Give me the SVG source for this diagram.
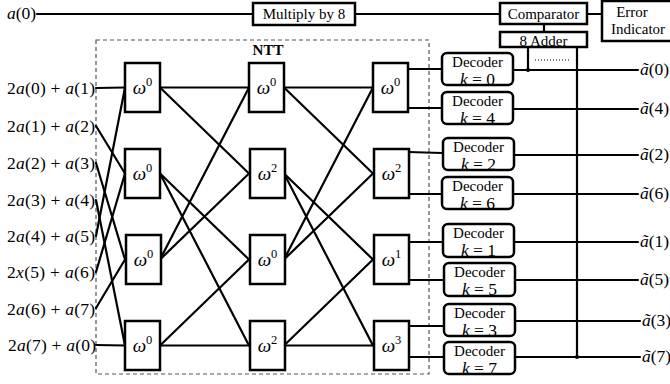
<svg xmlns="http://www.w3.org/2000/svg" width="670" height="384" viewBox="0 0 670 384">
  <style>
    .box { fill: #fff; stroke: #000; stroke-width: 2.5; }
    .tw { fill: #fff; stroke: #000; stroke-width: 2.5; }
    .dec { fill: #fff; stroke: #000; stroke-width: 2.5; }
    .wire { stroke: #000; stroke-width: 2.2; fill: none; stroke-linecap: round; }
    .txt { font-family: "Liberation Serif", "Times New Roman", serif; font-size: 15px; fill: #000; }
    .math { font-family: "Liberation Serif", "Times New Roman", serif; font-size: 17.5px; fill: #000; }
    .i { font-style: italic; }
    .w { font-family: "Liberation Serif", "Times New Roman", serif; font-size: 19px; font-style: italic; fill: #000; }
    .sup { font-size: 12.5px; font-style: normal; }
  </style>

  <!-- NTT frame -->
  <g id="ntt-frame">
    <rect x="96" y="40" width="333" height="334" fill="none" stroke="#555" stroke-width="1.2" stroke-dasharray="4,3"/>
    <text x="268" y="55" text-anchor="middle" class="txt" font-weight="bold">NTT</text>
  </g>

  <!-- connectors -->
  <g id="connectors" class="wire">
    <!-- top path -->
    <line x1="37" y1="14" x2="253" y2="14"/>
    <line x1="355" y1="14" x2="500" y2="14"/>
    <line x1="587" y1="14" x2="602" y2="14"/>
    <line x1="544" y1="24" x2="544" y2="32"/>
    <line x1="528" y1="47" x2="528" y2="70"/>
    <line x1="577" y1="47" x2="577" y2="357"/>
    <line x1="535" y1="60" x2="570" y2="60" stroke-width="1" stroke-dasharray="1,2" stroke-linecap="butt"/>

    <!-- inputs to stage 1 -->
    <line x1="96" y1="88" x2="125" y2="87.5"/>
    <line x1="96" y1="126" x2="125" y2="173.5"/>
    <line x1="96" y1="163" x2="125" y2="259.5"/>
    <line x1="96" y1="200" x2="125" y2="345.5"/>
    <line x1="96" y1="236" x2="125" y2="87.5"/>
    <line x1="96" y1="272" x2="125" y2="173.5"/>
    <line x1="96" y1="308" x2="125" y2="259.5"/>
    <line x1="96" y1="345" x2="125" y2="345.5"/>

    <!-- stage 1 to stage 2 -->
    <line x1="160" y1="87.5" x2="249" y2="87.5"/>
    <line x1="160" y1="87.5" x2="249" y2="173.5"/>
    <line x1="160" y1="259.5" x2="249" y2="87.5"/>
    <line x1="160" y1="259.5" x2="249" y2="173.5"/>
    <line x1="160" y1="173.5" x2="249" y2="259.5"/>
    <line x1="160" y1="173.5" x2="249" y2="345.5"/>
    <line x1="160" y1="345.5" x2="249" y2="259.5"/>
    <line x1="160" y1="345.5" x2="249" y2="345.5"/>

    <!-- stage 2 to stage 3 -->
    <line x1="284" y1="87.5" x2="373" y2="87.5"/>
    <line x1="284" y1="87.5" x2="373" y2="173.5"/>
    <line x1="284" y1="259.5" x2="373" y2="87.5"/>
    <line x1="284" y1="259.5" x2="373" y2="173.5"/>
    <line x1="284" y1="173.5" x2="373" y2="259.5"/>
    <line x1="284" y1="173.5" x2="373" y2="345.5"/>
    <line x1="284" y1="345.5" x2="373" y2="259.5"/>
    <line x1="284" y1="345.5" x2="373" y2="345.5"/>

    <!-- stage 3 to decoders -->
    <line x1="408" y1="69" x2="442" y2="69"/>
    <line x1="408" y1="108" x2="442" y2="108"/>
    <line x1="408" y1="152" x2="442" y2="153"/>
    <line x1="408" y1="194" x2="442" y2="194"/>
    <line x1="408" y1="242" x2="443" y2="242"/>
    <line x1="408" y1="280" x2="443" y2="280"/>
    <line x1="408" y1="326" x2="443" y2="326"/>
    <line x1="408" y1="357" x2="443" y2="357"/>

    <!-- decoder outputs -->
    <line x1="513" y1="70" x2="638" y2="70"/>
    <line x1="513" y1="109" x2="638" y2="109"/>
    <line x1="513" y1="155" x2="638" y2="155"/>
    <line x1="513" y1="194" x2="638" y2="194"/>
    <line x1="514" y1="242" x2="638" y2="242"/>
    <line x1="514" y1="280" x2="638" y2="280"/>
    <line x1="514" y1="321" x2="640" y2="321"/>
    <line x1="514" y1="357" x2="640" y2="357"/>
  </g>
  <g id="junctions" fill="#000">
    <circle cx="528" cy="70" r="2"/>
    <circle cx="577" cy="357" r="2"/>
  </g>

  <!-- top chain -->
  <g id="in-a0">
    <text x="7" y="19" class="math"><tspan class="i">a</tspan>(0)</text>
  </g>
  <g id="multiply">
    <rect x="253" y="3" width="102" height="22" class="box"/>
    <text x="304" y="19" text-anchor="middle" class="txt">Multiply by 8</text>
  </g>
  <g id="comparator">
    <rect x="500" y="3" width="87" height="21" class="box" stroke-width="2"/>
    <text x="543.5" y="19" text-anchor="middle" class="txt">Comparator</text>
  </g>
  <g id="adder">
    <rect x="500" y="32" width="87" height="15" class="box" stroke-width="2"/>
    <text x="543.5" y="46" text-anchor="middle" class="txt">8 Adder</text>
  </g>
  <g id="error-indicator">
    <rect x="602" y="1" width="72" height="40" class="box" stroke-width="2"/>
    <text x="632" y="17" text-anchor="middle" class="txt">Error</text>
    <text x="638" y="34" text-anchor="middle" class="txt">Indicator</text>
  </g>

  <!-- input labels -->
  <g id="inputs" class="math" text-anchor="end">
    <text x="95" y="94" textLength="88">2<tspan class="i">a</tspan>(0) + <tspan class="i">a</tspan>(1)</text>
    <text x="95" y="132" textLength="88">2<tspan class="i">a</tspan>(1) + <tspan class="i">a</tspan>(2)</text>
    <text x="95" y="169" textLength="88">2<tspan class="i">a</tspan>(2) + <tspan class="i">a</tspan>(3)</text>
    <text x="95" y="206" textLength="88">2<tspan class="i">a</tspan>(3) + <tspan class="i">a</tspan>(4)</text>
    <text x="95" y="242" textLength="88">2<tspan class="i">a</tspan>(4) + <tspan class="i">a</tspan>(5)</text>
    <text x="95" y="278" textLength="88">2<tspan class="i">x</tspan>(5) + <tspan class="i">a</tspan>(6)</text>
    <text x="95" y="315" textLength="88">2<tspan class="i">a</tspan>(6) + <tspan class="i">a</tspan>(7)</text>
    <text x="96" y="351" textLength="88">2<tspan class="i">a</tspan>(7) + <tspan class="i">a</tspan>(0)</text>
  </g>

  <!-- stage 1 twiddle nodes -->
  <g id="s1n1"><rect x="125" y="63" width="35" height="49" class="tw"/><text x="142.5" y="94" text-anchor="middle" class="w">ω<tspan class="sup" dy="-8">0</tspan></text></g>
  <g id="s1n2"><rect x="125" y="149" width="35" height="49" class="tw"/><text x="142.5" y="180" text-anchor="middle" class="w">ω<tspan class="sup" dy="-8">0</tspan></text></g>
  <g id="s1n3"><rect x="126" y="235" width="35" height="49" class="tw"/><text x="143.5" y="266" text-anchor="middle" class="w">ω<tspan class="sup" dy="-8">0</tspan></text></g>
  <g id="s1n4"><rect x="125" y="321" width="35" height="49" class="tw"/><text x="142.5" y="352" text-anchor="middle" class="w">ω<tspan class="sup" dy="-8">0</tspan></text></g>

  <!-- stage 2 twiddle nodes -->
  <g id="s2n1"><rect x="249" y="63" width="35" height="49" class="tw"/><text x="266.5" y="94" text-anchor="middle" class="w">ω<tspan class="sup" dy="-8">0</tspan></text></g>
  <g id="s2n2"><rect x="250" y="149" width="35" height="49" class="tw"/><text x="267.5" y="180" text-anchor="middle" class="w">ω<tspan class="sup" dy="-8">2</tspan></text></g>
  <g id="s2n3"><rect x="250" y="235" width="35" height="49" class="tw"/><text x="267.5" y="266" text-anchor="middle" class="w">ω<tspan class="sup" dy="-8">0</tspan></text></g>
  <g id="s2n4"><rect x="250" y="321" width="35" height="49" class="tw"/><text x="267.5" y="352" text-anchor="middle" class="w">ω<tspan class="sup" dy="-8">2</tspan></text></g>

  <!-- stage 3 twiddle nodes -->
  <g id="s3n1"><rect x="373" y="63" width="35" height="49" class="tw"/><text x="390.5" y="94" text-anchor="middle" class="w">ω<tspan class="sup" dy="-8">0</tspan></text></g>
  <g id="s3n2"><rect x="374" y="149" width="35" height="49" class="tw"/><text x="391.5" y="180" text-anchor="middle" class="w">ω<tspan class="sup" dy="-8">2</tspan></text></g>
  <g id="s3n3"><rect x="374" y="235" width="35" height="49" class="tw"/><text x="391.5" y="266" text-anchor="middle" class="w">ω<tspan class="sup" dy="-8">1</tspan></text></g>
  <g id="s3n4"><rect x="374" y="321" width="35" height="49" class="tw"/><text x="391.5" y="352" text-anchor="middle" class="w">ω<tspan class="sup" dy="-8">3</tspan></text></g>

  <!-- decoders -->
  <g id="dec0"><rect x="442" y="53" width="71" height="32" rx="5" class="dec"/><text x="477.5" y="67" text-anchor="middle" class="txt">Decoder</text><text x="477.5" y="85" text-anchor="middle" class="math"><tspan class="i">k</tspan> = 0</text></g>
  <g id="dec4"><rect x="442" y="92" width="71" height="32" rx="5" class="dec"/><text x="477.5" y="106" text-anchor="middle" class="txt">Decoder</text><text x="477.5" y="124" text-anchor="middle" class="math"><tspan class="i">k</tspan> = 4</text></g>
  <g id="dec2"><rect x="443" y="138" width="71" height="32" rx="5" class="dec"/><text x="478.5" y="152" text-anchor="middle" class="txt">Decoder</text><text x="478.5" y="170" text-anchor="middle" class="math"><tspan class="i">k</tspan> = 2</text></g>
  <g id="dec6"><rect x="442" y="177" width="71" height="32" rx="5" class="dec"/><text x="477.5" y="191" text-anchor="middle" class="txt">Decoder</text><text x="477.5" y="209" text-anchor="middle" class="math"><tspan class="i">k</tspan> = 6</text></g>
  <g id="dec1"><rect x="443" y="224" width="71" height="33" rx="5" class="dec"/><text x="478.5" y="238" text-anchor="middle" class="txt">Decoder</text><text x="478.5" y="256" text-anchor="middle" class="math"><tspan class="i">k</tspan> = 1</text></g>
  <g id="dec5"><rect x="444" y="263" width="71" height="33" rx="5" class="dec"/><text x="479.5" y="277" text-anchor="middle" class="txt">Decoder</text><text x="479.5" y="295" text-anchor="middle" class="math"><tspan class="i">k</tspan> = 5</text></g>
  <g id="dec3"><rect x="444" y="304" width="71" height="32" rx="5" class="dec"/><text x="479.5" y="318" text-anchor="middle" class="txt">Decoder</text><text x="479.5" y="336" text-anchor="middle" class="math"><tspan class="i">k</tspan> = 3</text></g>
  <g id="dec7"><rect x="444" y="342" width="71" height="32" rx="5" class="dec"/><text x="479.5" y="356" text-anchor="middle" class="txt">Decoder</text><text x="479.5" y="374" text-anchor="middle" class="math"><tspan class="i">k</tspan> = 7</text></g>

  <!-- outputs -->
  <g id="outputs" class="math">
    <text x="640" y="75"><tspan class="i">ã</tspan>(0)</text>
    <text x="640" y="114"><tspan class="i">ã</tspan>(4)</text>
    <text x="640" y="160"><tspan class="i">ã</tspan>(2)</text>
    <text x="640" y="199"><tspan class="i">ã</tspan>(6)</text>
    <text x="640" y="247"><tspan class="i">ã</tspan>(1)</text>
    <text x="640" y="285"><tspan class="i">ã</tspan>(5)</text>
    <text x="642" y="326"><tspan class="i">ã</tspan>(3)</text>
    <text x="642" y="362"><tspan class="i">ã</tspan>(7)</text>
  </g>
</svg>
